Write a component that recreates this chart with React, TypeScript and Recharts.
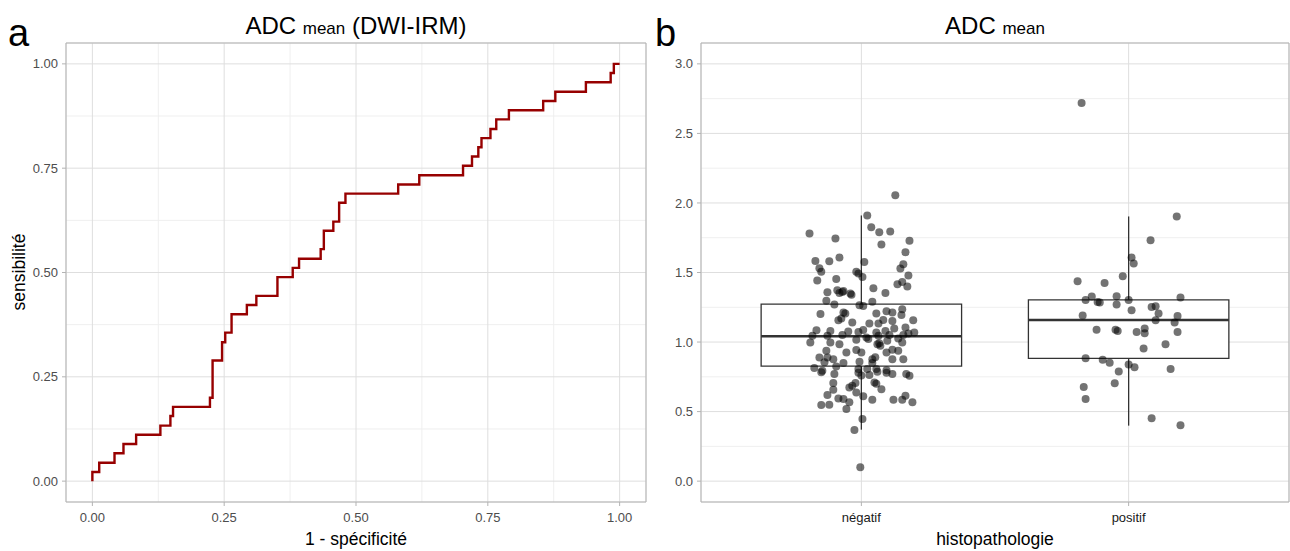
import { LineChart, Line, ComposedChart, Scatter, XAxis, YAxis, CartesianGrid, ReferenceArea, ReferenceLine } from 'recharts';

// ROC curve: each point is the top of a vertical step (stepAfter)
const ROC_FPR = [0, 0, 0.013, 0.042, 0.059, 0.083, 0.129, 0.148, 0.153, 0.223, 0.228, 0.246, 0.252, 0.264, 0.293, 0.311, 0.351, 0.38, 0.392, 0.433, 0.439, 0.457, 0.468, 0.48, 0.58, 0.62, 0.703, 0.72, 0.732, 0.738, 0.755, 0.766, 0.79, 0.855, 0.878, 0.936, 0.983, 0.989, 1];
const ROC_TPR = [0, 0.022, 0.044, 0.067, 0.089, 0.111, 0.133, 0.156, 0.178, 0.2, 0.289, 0.333, 0.356, 0.4, 0.422, 0.444, 0.489, 0.511, 0.533, 0.556, 0.6, 0.622, 0.667, 0.689, 0.711, 0.733, 0.756, 0.778, 0.8, 0.822, 0.844, 0.867, 0.889, 0.911, 0.933, 0.956, 0.978, 1, 1];

const ROC_TICKS = [0, 0.25, 0.5, 0.75, 1];
const ROC_MINOR = [0.125, 0.375, 0.625, 0.875];

// ADC mean by histopathology
const GROUPS = ['négatif', 'positif'];
const NEG_JITTER = [0.127, 0.022, -0.194, -0.097, 0.037, 0.067, 0.108, 0.18, 0.075, 0.165, -0.172, -0.12, -0.082, 0.011, -0.157, -0.15, 0.157, 0.146, -0.019, -0.011, 0.004, 0.176, -0.165, -0.094, 0.135, 0.153, 0.172, 0.045, 0.09, -0.127, -0.09, -0.067, -0.082, -0.041, -0.071, -0.037, -0.131, -0.101, -0.007, 0.007, 0.041, -0.153, -0.067, -0.06, -0.075, -0.034, -0.086, 0.056, 0.094, 0.116, 0.153, 0.15, 0.082, 0.064, 0.03, 0.116, 0.194, 0.123, 0.165, 0.198, -0.168, -0.116, -0.049, -0.011, 0.007, 0.056, 0.09, -0.183, -0.127, -0.071, 0.019, 0.064, 0.105, 0.157, 0.176, -0.191, -0.116, -0.082, -0.019, 0.026, 0.067, 0.097, 0.138, 0.153, -0.056, -0.019, 0, 0.06, 0.071, 0.094, 0.116, 0.138, -0.131, -0.157, -0.127, -0.105, 0.041, 0.052, 0.116, 0.157, -0.138, -0.067, -0.007, 0.041, -0.176, -0.146, -0.094, -0.011, 0.022, 0.056, 0.094, 0.168, -0.15, -0.101, -0.011, 0, 0.03, 0.06, 0.094, 0.116, 0.18, -0.105, -0.045, -0.034, -0.022, 0.049, 0.056, 0.075, -0.105, -0.019, -0.127, 0.007, -0.086, -0.067, -0.045, 0.041, 0.12, 0.153, 0.165, 0.191, -0.15, -0.12, -0.056, 0.004, -0.026, -0.004];
const NEG_ADC = [2.056, 1.91, 1.781, 1.745, 1.826, 1.79, 1.795, 1.729, 1.702, 1.645, 1.583, 1.58, 1.607, 1.575, 1.53, 1.506, 1.559, 1.528, 1.506, 1.492, 1.468, 1.478, 1.442, 1.453, 1.415, 1.432, 1.399, 1.387, 1.353, 1.358, 1.372, 1.367, 1.353, 1.349, 1.36, 1.34, 1.296, 1.27, 1.265, 1.26, 1.29, 1.202, 1.212, 1.205, 1.169, 1.141, 1.157, 1.205, 1.222, 1.212, 1.236, 1.195, 1.159, 1.133, 1.133, 1.152, 1.157, 1.098, 1.105, 1.069, 1.085, 1.08, 1.076, 1.073, 1.087, 1.069, 1.08, 1.045, 1.045, 1.05, 1.033, 1.045, 1.05, 1.05, 1.062, 0.997, 0.997, 0.985, 1.016, 1.021, 0.992, 1.009, 1.026, 0.997, 0.925, 0.942, 0.925, 0.985, 0.973, 0.925, 0.944, 0.937, 0.937, 0.889, 0.889, 0.877, 0.877, 0.89, 0.877, 0.877, 0.854, 0.849, 0.858, 0.849, 0.813, 0.793, 0.825, 0.806, 0.806, 0.806, 0.798, 0.77, 0.782, 0.77, 0.78, 0.76, 0.763, 0.786, 0.78, 0.77, 0.758, 0.705, 0.674, 0.686, 0.705, 0.71, 0.7, 0.66, 0.657, 0.638, 0.619, 0.61, 0.595, 0.59, 0.567, 0.585, 0.585, 0.585, 0.614, 0.567, 0.547, 0.549, 0.519, 0.447, 0.368, 0.1];
const POS_JITTER = [-0.176, 0.18, 0.082, 0.011, 0.019, -0.022, -0.191, -0.09, -0.138, -0.161, -0.116, -0.108, -0.045, 0, -0.045, 0.194, 0.011, 0.086, 0.101, 0.112, -0.172, 0.183, 0.101, 0.172, -0.12, -0.049, -0.041, 0.03, 0.06, 0.06, 0.183, 0.138, 0.056, -0.161, -0.097, -0.071, 0, 0.022, 0.157, -0.037, -0.168, -0.052, -0.161, 0.086, 0.194];
const POS_ADC = [2.719, 1.903, 1.731, 1.607, 1.564, 1.473, 1.437, 1.425, 1.327, 1.303, 1.288, 1.285, 1.329, 1.303, 1.27, 1.32, 1.229, 1.252, 1.257, 1.205, 1.191, 1.188, 1.157, 1.14, 1.088, 1.088, 1.08, 1.073, 1.097, 1.064, 1.073, 0.985, 0.954, 0.884, 0.872, 0.851, 0.839, 0.818, 0.806, 0.789, 0.677, 0.703, 0.59, 0.452, 0.402];

const BOX_LOW = [0.37, 0.399];
const BOX_Q1 = [0.827, 0.882];
const BOX_MED = [1.042, 1.159];
const BOX_Q3 = [1.272, 1.303];
const BOX_HIGH = [1.91, 1.903];

const ADC_TICKS = [0, 0.5, 1, 1.5, 2, 2.5, 3];
const ADC_MINOR = [0.25, 0.75, 1.25, 1.75, 2.25, 2.75];

const FONT = '"Liberation Sans", Arial, sans-serif';
const TICK_STYLE = { fontSize: 13, fill: '#4D4D4D', fontFamily: FONT };
const CAT_STYLE = { fontSize: 13, fill: '#1A1A1A', fontFamily: FONT };

const rocData = ROC_FPR.map((fpr, i) => ({ fpr, tpr: ROC_TPR[i] }));
const negData = NEG_ADC.map((v, i) => ({ x: 1 + NEG_JITTER[i], y: v }));
const posData = POS_ADC.map((v, i) => ({ x: 2 + POS_JITTER[i], y: v }));

const Dot = (props: any) => <circle cx={props.cx} cy={props.cy} r={4} fill="#000" fillOpacity={0.55} />;

export default function App() {
  return (
    <div style={{ position: 'absolute', left: 0, top: 0, width: 1290, height: 551, background: '#fff', fontFamily: FONT }}>
      <div style={{ position: 'absolute', left: 8, top: 14, fontSize: 38, lineHeight: 1, color: '#000' }}>a</div>
      <div style={{ position: 'absolute', left: 655, top: 14, fontSize: 38, lineHeight: 1, color: '#000' }}>b</div>

      <div style={{ position: 'absolute', left: 66, width: 580, top: 14, fontSize: 24, lineHeight: 1, textAlign: 'center', whiteSpace: 'nowrap' }}>
        ADC <span style={{ fontSize: 17 }}>mean</span> (DWI-IRM)
      </div>
      <div style={{ position: 'absolute', left: 701, width: 588, top: 14, fontSize: 24, lineHeight: 1, textAlign: 'center', whiteSpace: 'nowrap' }}>
        ADC <span style={{ fontSize: 17 }}>mean</span>
      </div>

      <div style={{ position: 'absolute', left: 66, width: 580, top: 531, fontSize: 17.5, lineHeight: 1, textAlign: 'center' }}>1 - spécificité</div>
      <div style={{ position: 'absolute', left: 701, width: 588, top: 531, fontSize: 17.5, lineHeight: 1, textAlign: 'center' }}>histopathologie</div>
      <div style={{ position: 'absolute', left: 20, top: 272, fontSize: 17.5, lineHeight: 1, whiteSpace: 'nowrap', transform: 'translate(-50%,-50%) rotate(-90deg)' }}>sensibilité</div>

      <div style={{ position: 'absolute', left: 0, top: 0 }}>
        <LineChart width={660} height={551} data={rocData} margin={{ top: 43, right: 14, bottom: 0, left: 0 }}>
          <CartesianGrid verticalValues={ROC_MINOR} horizontalValues={ROC_MINOR} stroke="#EFEFEF" strokeWidth={1} />
          <CartesianGrid stroke="#DEDEDE" strokeWidth={1} />
          <XAxis type="number" dataKey="fpr" domain={[-0.05, 1.05]} ticks={ROC_TICKS} tickFormatter={(v: number) => v.toFixed(2)}
            height={49} axisLine={false} tickSize={4} tickMargin={7} tickLine={{ stroke: '#B3B3B3' }} tick={TICK_STYLE} />
          <YAxis type="number" domain={[-0.05, 1.05]} ticks={ROC_TICKS} tickFormatter={(v: number) => v.toFixed(2)}
            width={66} axisLine={false} tickSize={4} tickMargin={4} tickLine={{ stroke: '#B3B3B3' }} tick={TICK_STYLE} />
          <ReferenceArea x1={-0.05} x2={1.05} y1={-0.05} y2={1.05} fill="none" stroke="#B3B3B3" strokeWidth={1} />
          <Line type="stepAfter" dataKey="tpr" stroke="#970000" strokeWidth={2.4} dot={false} isAnimationActive={false} />
        </LineChart>
      </div>

      <div style={{ position: 'absolute', left: 640, top: 0 }}>
        <ComposedChart width={650} height={551} margin={{ top: 43, right: 1, bottom: 0, left: 0 }}>
          <CartesianGrid vertical={false} horizontalValues={ADC_MINOR} stroke="#EFEFEF" strokeWidth={1} />
          <CartesianGrid stroke="#DEDEDE" strokeWidth={1} />
          <XAxis type="number" dataKey="x" domain={[0.4, 2.6]} ticks={[1, 2]} tickFormatter={(v: number) => GROUPS[v - 1]}
            height={49} axisLine={false} tickSize={4} tickMargin={7} tickLine={{ stroke: '#B3B3B3' }} tick={CAT_STYLE} />
          <YAxis type="number" dataKey="y" domain={[-0.15, 3.15]} ticks={ADC_TICKS} tickFormatter={(v: number) => v.toFixed(1)}
            width={61} axisLine={false} tickSize={4} tickMargin={4} tickLine={{ stroke: '#B3B3B3' }} tick={TICK_STYLE} />
          <ReferenceArea x1={0.4} x2={2.6} y1={-0.15} y2={3.15} fill="none" stroke="#B3B3B3" strokeWidth={1} />
          {GROUPS.map((g, i) => (
            <ReferenceLine key={g + 'lo'} segment={[{ x: i + 1, y: BOX_LOW[i] }, { x: i + 1, y: BOX_Q1[i] }]} stroke="#333" strokeWidth={1.3} />
          ))}
          {GROUPS.map((g, i) => (
            <ReferenceLine key={g + 'hi'} segment={[{ x: i + 1, y: BOX_Q3[i] }, { x: i + 1, y: BOX_HIGH[i] }]} stroke="#333" strokeWidth={1.3} />
          ))}
          {GROUPS.map((g, i) => (
            <ReferenceArea key={g + 'box'} x1={i + 1 - 0.375} x2={i + 1 + 0.375} y1={BOX_Q1[i]} y2={BOX_Q3[i]} fill="#fff" fillOpacity={1} stroke="#333" strokeWidth={1.3} />
          ))}
          {GROUPS.map((g, i) => (
            <ReferenceLine key={g + 'med'} segment={[{ x: i + 1 - 0.375, y: BOX_MED[i] }, { x: i + 1 + 0.375, y: BOX_MED[i] }]} stroke="#333" strokeWidth={2.6} />
          ))}
          <Scatter data={negData} shape={Dot} isAnimationActive={false} />
          <Scatter data={posData} shape={Dot} isAnimationActive={false} />
        </ComposedChart>
      </div>
    </div>
  );
}
